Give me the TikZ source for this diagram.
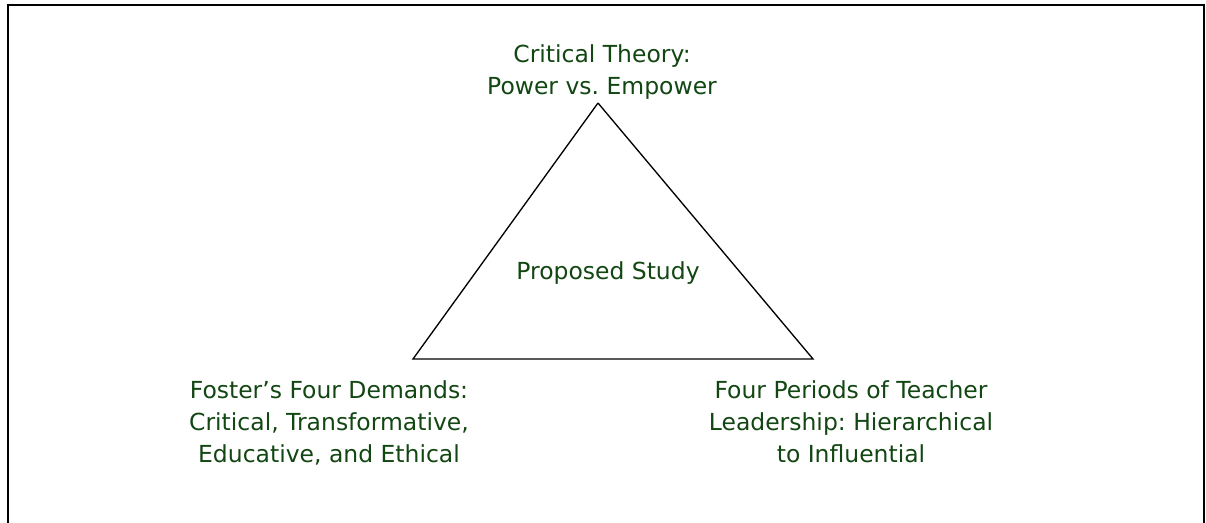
\documentclass[tikz,border=0pt]{standalone}
\usepackage{fontspec}
\setmainfont{DejaVu Sans}
\usepackage{tikz}
\definecolor{labelgreen}{RGB}{18,70,18}
\frenchspacing

\begin{document}
\begin{tikzpicture}[x=0.75pt,y=-0.75pt,
    labeltext/.style={text=labelgreen, align=center, inner sep=0pt,
        font=\fontsize{17.6}{24}\selectfont}]
                \useasboundingbox (0,0) rectangle (1206,523);
                \draw[line width=1.5pt] (8,5) rectangle (1204,530);

                \coordinate (A) at (598,103);
                \coordinate (B) at (413,359);
                \coordinate (C) at (813,359);

                \draw[line width=1pt] (A)-- (B)-- (C)-- (A);

                \node[labeltext, anchor=base] (theory) at (602,95) {Critical Theory:\\Power vs. Empower};
                \node[labeltext, anchor=base] (study) at (608,280) {Proposed Study};
                \node[labeltext, anchor=base] (demands) at (329,463) {Foster’s Four Demands:\\Critical, Transformative,\\Educative, and Ethical};
                \node[labeltext, anchor=base] (periods) at (851,463) {Four Periods of Teacher\\Leadership: Hierarchical\\to Influential};
            \end{tikzpicture}
\end{document}
